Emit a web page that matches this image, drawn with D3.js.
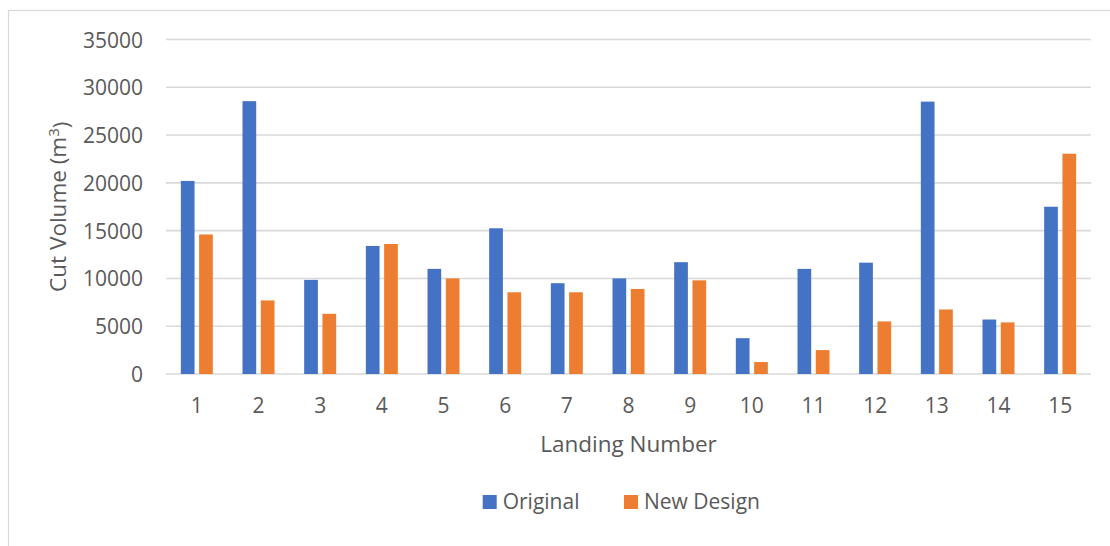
<!DOCTYPE html>
<html>
<head>
<meta charset="utf-8">
<script src="https://cdn.jsdelivr.net/npm/d3@7"></script>
<style>
  html, body { margin: 0; padding: 0; background: #fff; }
  svg { display: block; }
  text { font-family: "Open Sans", "Liberation Sans", sans-serif; fill: #595959; }
</style>
</head>
<body>
<svg id="chart" width="1110" height="546"></svg>
<script>
// Landing numbers along the x axis
const landings = ["1","2","3","4","5","6","7","8","9","10","11","12","13","14","15"];
// Cut volume per landing (m³)
const original  = [20200, 28550, 9850, 13400, 11000, 15250, 9500, 10000, 11700, 3750, 11000, 11650, 28500, 5700, 17500];
const newDesign = [14600, 7700, 6300, 13600, 10000, 8550, 8550, 8900, 9800, 1250, 2500, 5500, 6750, 5400, 23050];
// Series names and y tick values
const seriesNames = ["Original", "New Design"];
const yTicks = [0, 5000, 10000, 15000, 20000, 25000, 30000, 35000];

const colors = { "Original": "#4472C4", "New Design": "#ED7D31" };
const seriesValues = { "Original": original, "New Design": newDesign };

const svg = d3.select("#chart");
const plot = { left: 166, right: 1091, top: 39.5, bottom: 374 };

// Chart area frame
svg.append("rect")
  .attr("x", 8.5).attr("y", 10.5)
  .attr("width", 1130).attr("height", 560)
  .attr("fill", "none").attr("stroke", "#d9d9d9").attr("stroke-width", 1.2);

const y = d3.scaleLinear().domain([0, 35000]).range([plot.bottom, plot.top]);
const x = d3.scaleBand().domain(landings).range([plot.left, plot.right]).paddingInner(0).paddingOuter(0);
const groupWidth = 32;
const xs = d3.scaleBand().domain(seriesNames).range([0, groupWidth]).paddingInner(0.251).paddingOuter(0);

// Horizontal gridlines
svg.append("g")
  .selectAll("line")
  .data(yTicks)
  .join("line")
  .attr("x1", plot.left).attr("x2", plot.right)
  .attr("y1", d => y(d)).attr("y2", d => y(d))
  .attr("stroke", "#d9d9d9").attr("stroke-width", 1.6);

// Y axis labels
const yAxis = d3.axisLeft(y).tickValues(yTicks).tickSize(0).tickPadding(0).tickFormat(d3.format("d"));
svg.append("g")
  .attr("transform", `translate(143,0)`)
  .call(yAxis)
  .call(g => g.select(".domain").remove())
  .call(g => g.selectAll("text")
    .style("font-size", "21px")
    .attr("fill", "#595959")
    .attr("dy", "0.36em"));

// X axis labels
const xAxis = d3.axisBottom(x).tickSize(0).tickPadding(0);
svg.append("g")
  .attr("transform", `translate(0,${plot.bottom})`)
  .call(xAxis)
  .call(g => g.select(".domain").remove())
  .call(g => g.selectAll("text")
    .style("font-size", "21px")
    .attr("fill", "#595959")
    .attr("y", 39).attr("dy", 0));

// Bars
const groups = svg.append("g")
  .selectAll("g")
  .data(landings)
  .join("g")
  .attr("transform", d => `translate(${x(d) + x.bandwidth() / 2 - groupWidth / 2},0)`);

groups.selectAll("rect")
  .data((d, i) => seriesNames.map(s => ({ s, v: seriesValues[s][i] })))
  .join("rect")
  .attr("x", d => xs(d.s))
  .attr("width", xs.bandwidth())
  .attr("y", d => y(d.v))
  .attr("height", d => plot.bottom - y(d.v))
  .attr("fill", d => colors[d.s]);

// Axis titles
svg.append("text")
  .attr("x", (plot.left + plot.right) / 2).attr("y", 452)
  .attr("text-anchor", "middle")
  .style("font-size", "22.5px")
  .text("Landing Number");

const yTitle = svg.append("text")
  .attr("transform", `translate(66,${(plot.top + plot.bottom) / 2}) rotate(-90)`)
  .attr("text-anchor", "middle")
  .style("font-size", "22.5px");
yTitle.append("tspan").text("Cut Volume (m");
yTitle.append("tspan").attr("dy", "-0.45em").style("font-size", "15px").text("3");
yTitle.append("tspan").attr("dy", "0.45em").text(")");

// Legend
const legendItems = [
  { name: "Original", sx: 482.7 },
  { name: "New Design", sx: 624 }
];
const legend = svg.append("g")
  .selectAll("g")
  .data(legendItems)
  .join("g")
  .attr("transform", d => `translate(${d.sx},495)`);
legend.append("rect")
  .attr("width", 14).attr("height", 14)
  .attr("fill", d => colors[d.name]);
legend.append("text")
  .attr("x", 20).attr("y", 14)
  .style("font-size", "21px")
  .text(d => d.name);
</script>
</body>
</html>
